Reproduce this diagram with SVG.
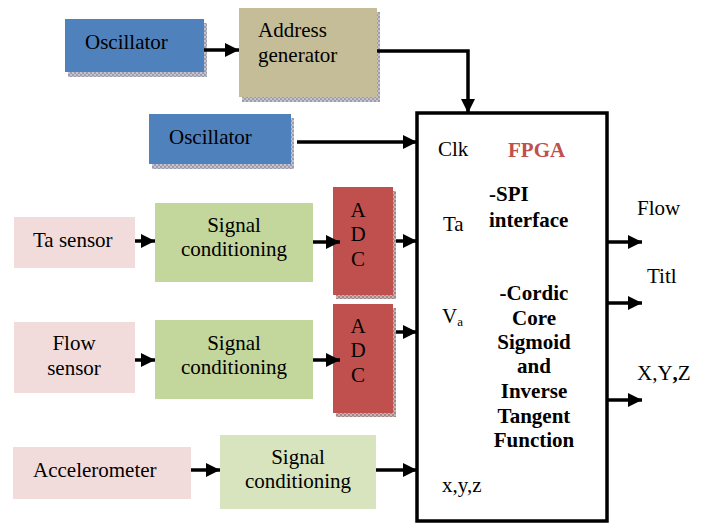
<svg xmlns="http://www.w3.org/2000/svg" width="713" height="524" viewBox="0 0 713 524">
<style>
text{font-family:"Liberation Serif",Tinos,"Times New Roman","DejaVu Serif",serif;font-size:21px;fill:#000}
.b{font-weight:bold}
.c{text-anchor:middle}
.ln{stroke:#000;stroke-width:3.5;fill:none}
.red{fill:#C0504D}
</style>
<defs>
<marker id="ah" markerUnits="userSpaceOnUse" markerWidth="15" markerHeight="14" viewBox="0 0 10 10" refX="10" refY="5" orient="auto">
<path d="M0,0 L10,5 L0,10 z" fill="#000"/>
</marker>
<pattern id="sg" width="4" height="4" patternUnits="userSpaceOnUse">
<rect width="4" height="4" fill="#9c9cac"/><rect width="2" height="2" fill="#c4c4d0"/><rect x="2" y="2" width="2" height="2" fill="#c4c4d0"/>
</pattern>
<pattern id="sr" width="4" height="4" patternUnits="userSpaceOnUse">
<rect width="4" height="4" fill="#a08888"/><rect width="2" height="2" fill="#c8b4b4"/><rect x="2" y="2" width="2" height="2" fill="#c8b4b4"/>
</pattern>
</defs>

<g id="osc1">
<rect x="68" y="23" width="139" height="54" fill="url(#sg)"/>
<rect x="65" y="19" width="139" height="53" fill="#4F81BD"/>
<text x="85" y="49">Oscillator</text>
</g>
<g id="addrgen">
<rect x="242" y="12" width="138" height="90" fill="url(#sg)"/>
<rect x="239" y="8" width="138" height="89" fill="#C4BD97"/>
<text x="258" y="37">Address</text>
<text x="258" y="62">generator</text>
</g>
<g id="osc2">
<rect x="152" y="118" width="142" height="51" fill="url(#sg)"/>
<rect x="149" y="114" width="142" height="50" fill="#4F81BD"/>
<text x="169" y="144">Oscillator</text>
</g>
<g id="tasensor">
<rect x="14" y="217" width="121" height="51" fill="#F2DCDB"/>
<text x="33" y="247">Ta sensor</text>
</g>
<g id="sc1">
<rect x="155" y="203" width="158" height="79" fill="#C3D69B"/>
<text class="c" x="234" y="232">Signal</text>
<text class="c" x="234" y="256">conditioning</text>
</g>
<g id="adc1">
<rect x="336" y="191" width="60" height="108" fill="url(#sr)"/>
<rect x="333" y="187" width="60" height="108" fill="#C0504D"/>
<text class="c" x="358" y="217">A</text>
<text class="c" x="358" y="241">D</text>
<text class="c" x="358" y="266">C</text>
</g>
<g id="flowsensor">
<rect x="14" y="322" width="121" height="71" fill="#F2DCDB"/>
<text class="c" x="74" y="350">Flow</text>
<text class="c" x="74" y="375">sensor</text>
</g>
<g id="sc2">
<rect x="155" y="320" width="158" height="79" fill="#C3D69B"/>
<text class="c" x="234" y="350">Signal</text>
<text class="c" x="234" y="374">conditioning</text>
</g>
<g id="adc2">
<rect x="336" y="308" width="60" height="109" fill="url(#sr)"/>
<rect x="333" y="304" width="60" height="109" fill="#C0504D"/>
<text class="c" x="358" y="333">A</text>
<text class="c" x="358" y="357">D</text>
<text class="c" x="358" y="382">C</text>
</g>
<g id="accel">
<rect x="13" y="447" width="178" height="52" fill="#F2DCDB"/>
<text x="33" y="477">Accelerometer</text>
</g>
<g id="sc3">
<rect x="220" y="435" width="156" height="74" fill="#D7E4BD"/>
<text class="c" x="298" y="464">Signal</text>
<text class="c" x="298" y="488">conditioning</text>
</g>
<g id="fpga">
<rect x="417" y="113" width="190" height="408" fill="#fff" stroke="#000" stroke-width="3.5"/>
<text x="438" y="156">Clk</text>
<text class="b red" x="508" y="157">FPGA</text>
<text class="b" x="489" y="201">-SPI</text>
<text class="b" x="489" y="227">interface</text>
<text x="443" y="231">Ta</text>
<text x="442" y="323">V<tspan font-size="13" dy="3">a</tspan></text>
<text class="b c" x="534" y="300">-Cordic</text>
<text class="b c" x="534" y="325">Core</text>
<text class="b c" x="534" y="349">Sigmoid</text>
<text class="b c" x="534" y="373">and</text>
<text class="b c" x="534" y="398">Inverse</text>
<text class="b c" x="534" y="423">Tangent</text>
<text class="b c" x="534" y="447">Function</text>
<text x="442" y="492">x,y,z</text>
</g>
<g id="outlabels">
<text x="637" y="215">Flow</text>
<text x="647" y="283">Titl</text>
<text x="637" y="380">X,Y<tspan class="b">,</tspan>Z</text>
</g>

<g id="connectors">
<path class="ln" d="M204,50 H239" marker-end="url(#ah)"/>
<path class="ln" d="M377,51 H468 V113" marker-end="url(#ah)"/>
<path class="ln" d="M297,142 H417" marker-end="url(#ah)"/>
<path class="ln" d="M135,241 H155" marker-end="url(#ah)"/>
<path class="ln" d="M313,242 H340" marker-end="url(#ah)"/>
<path class="ln" d="M396,241 H417" marker-end="url(#ah)"/>
<path class="ln" d="M135,360 H155" marker-end="url(#ah)"/>
<path class="ln" d="M313,360 H340" marker-end="url(#ah)"/>
<path class="ln" d="M396,332 H417" marker-end="url(#ah)"/>
<path class="ln" d="M191,470 H220" marker-end="url(#ah)"/>
<path class="ln" d="M376,470 H417" marker-end="url(#ah)"/>
<path class="ln" d="M607,242 H642" marker-end="url(#ah)"/>
<path class="ln" d="M607,303 H642" marker-end="url(#ah)"/>
<path class="ln" d="M607,400 H642" marker-end="url(#ah)"/>
</g>
</svg>
